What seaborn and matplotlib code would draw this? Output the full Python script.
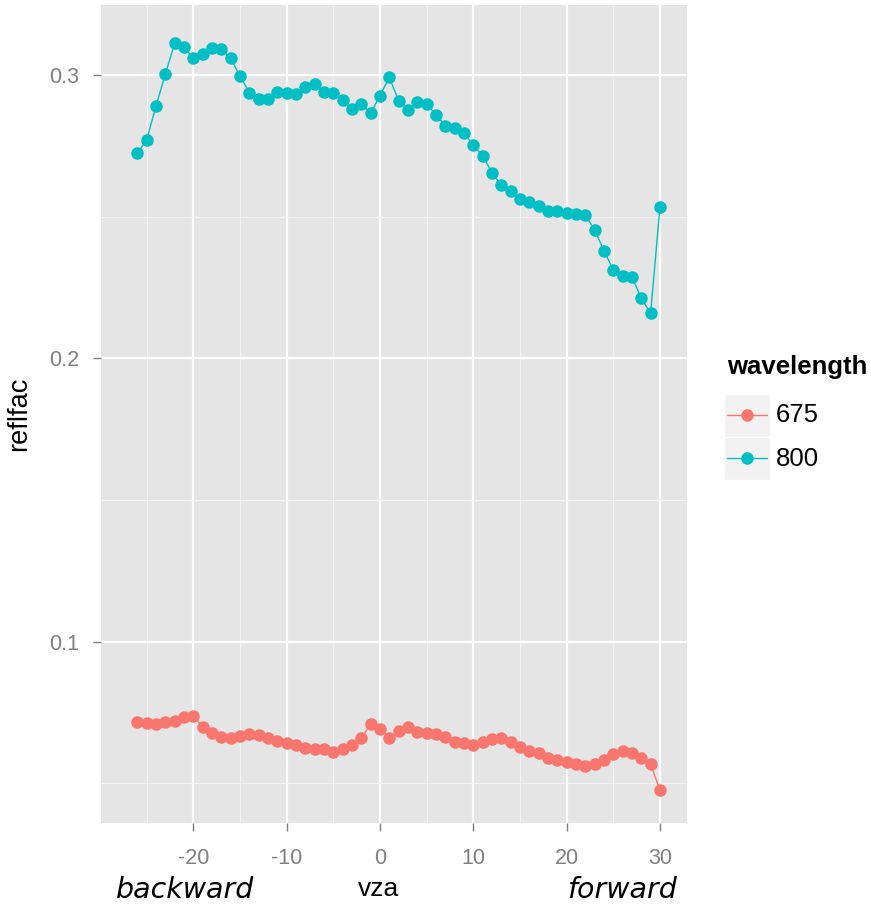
import numpy as np
import pandas as pd
import matplotlib
matplotlib.use("Agg")
import matplotlib.pyplot as plt
from matplotlib.patches import Rectangle
from matplotlib.lines import Line2D
import seaborn as sns

# view zenith angles (degrees)
vza = list(range(-26, 31))

# reflectance factor at 675 nm
refl_675 = [0.0715, 0.0714, 0.0709, 0.0717, 0.0721, 0.0735, 0.0737, 0.0700, 0.0676, 0.0664,
            0.0659, 0.0667, 0.0674, 0.0670, 0.0659, 0.0650, 0.0643, 0.0637, 0.0623, 0.0620,
            0.0620, 0.0611, 0.0620, 0.0635, 0.0659, 0.0710, 0.0692, 0.0661, 0.0684, 0.0700,
            0.0682, 0.0676, 0.0674, 0.0664, 0.0647, 0.0641, 0.0635, 0.0647, 0.0655, 0.0659,
            0.0647, 0.0629, 0.0615, 0.0606, 0.0588, 0.0582, 0.0576, 0.0568, 0.0561, 0.0568,
            0.0582, 0.0603, 0.0615, 0.0608, 0.0588, 0.0568, 0.0476]

# reflectance factor at 800 nm
refl_800 = [0.2724, 0.2771, 0.2891, 0.3004, 0.3112, 0.3098, 0.3059, 0.3073, 0.3094, 0.3091,
            0.3059, 0.2996, 0.2938, 0.2916, 0.2916, 0.2941, 0.2935, 0.2933, 0.2959, 0.2968,
            0.2941, 0.2935, 0.2912, 0.2879, 0.2898, 0.2866, 0.2927, 0.2992, 0.2909, 0.2876,
            0.2906, 0.2898, 0.2859, 0.2820, 0.2814, 0.2794, 0.2753, 0.2714, 0.2655, 0.2612,
            0.2591, 0.2561, 0.2553, 0.2538, 0.2521, 0.2521, 0.2514, 0.2509, 0.2506, 0.2453,
            0.2380, 0.2312, 0.2291, 0.2288, 0.2212, 0.2159, 0.2533]

wavelengths = ["675", "800"]
colors = ["#F8766D", "#00BFC4"]

x_ticks = [-20, -10, 0, 10, 20, 30]
y_ticks = [0.1, 0.2, 0.3]
y_tick_labels = ["0.1", "0.2", "0.3"]

df = pd.DataFrame({
    "vza": vza * 2,
    "reflfac": refl_675 + refl_800,
    "wavelength": [wavelengths[0]] * len(vza) + [wavelengths[1]] * len(vza),
})

sns.set_theme(style="darkgrid")
plt.rcParams["font.family"] = ["Liberation Sans", "DejaVu Sans"]

W, H = 871, 905
fig = plt.figure(figsize=(W / 100, H / 100), dpi=100)
fig.patch.set_facecolor("white")
ax = fig.add_axes([101 / W, 1 - 823 / H, (687 - 101) / W, (823 - 5) / H])
ax.set_facecolor("#E5E5E5")

palette = dict(zip(wavelengths, colors))
sns.lineplot(data=df, x="vza", y="reflfac", hue="wavelength", palette=palette,
             marker="o", markersize=9, markeredgewidth=0, linewidth=1.0,
             legend=False, ax=ax, zorder=3)

ax.set_xlim(-29.9, 32.9)
ax.set_ylim(0.036, 0.3247)

ax.set_xticks(x_ticks)
ax.set_xticklabels([str(t) for t in x_ticks])
ax.set_yticks(y_ticks)
ax.set_yticklabels(y_tick_labels)
ax.set_xticks([-25, -15, -5, 5, 15, 25], minor=True)
ax.set_yticks([0.05, 0.15, 0.25], minor=True)

ax.grid(which="major", color="white", linewidth=1.6)
ax.grid(which="minor", color="#F2F2F2", linewidth=0.8)
for s in ax.spines.values():
    s.set_visible(False)

ax.tick_params(axis="both", which="major", length=6, width=1.0, color="#7F7F7F",
               labelcolor="#7F7F7F", labelsize=15.5, bottom=True, left=True)
ax.tick_params(axis="x", which="major", pad=12)
ax.tick_params(axis="y", which="major", pad=10)
ax.tick_params(axis="both", which="minor", length=0)

ax.set_xlabel("vza", fontsize=19, color="black", labelpad=8)
ax.xaxis.set_label_coords((379 - 101) / (687 - 101), -(877 - 823) / (823 - 5))
ax.set_ylabel("reflfac", fontsize=19.5, color="black", labelpad=12)

# direction hints beside the x-axis title
fig.text(185 / W, 1 - 890 / H, "backward", ha="center", va="center",
         fontsize=20.5, style="italic", family="DejaVu Sans", color="black")
fig.text(622 / W, 1 - 890 / H, "forward", ha="center", va="center",
         fontsize=20.5, style="italic", family="DejaVu Sans", color="black")

# legend in ggplot style: title, grey key boxes, line+point keys
fig.text(727 / W, 1 - 367 / H, "wavelength", ha="left", va="center",
         fontsize=18.5, fontweight="bold", color="black")
key_top = [394, 437]
for i, (lab, col) in enumerate(zip(wavelengths, colors)):
    top = key_top[i]
    fig.add_artist(Rectangle((724 / W, 1 - (top + 43) / H), 46 / W, 43 / H,
                             transform=fig.transFigure, facecolor="#F2F2F2",
                             edgecolor="white", linewidth=1))
    yc = 1 - (top + 21.5) / H
    fig.add_artist(Line2D([727 / W, 767 / W], [yc, yc], transform=fig.transFigure,
                          color=col, linewidth=1.0))
    fig.add_artist(Line2D([747 / W], [yc], transform=fig.transFigure, color=col,
                          marker="o", markersize=9, markeredgewidth=0))
    fig.text(776 / W, yc, lab, ha="left", va="center", fontsize=18.5, color="black")

fig.savefig("out.png", dpi=100)
